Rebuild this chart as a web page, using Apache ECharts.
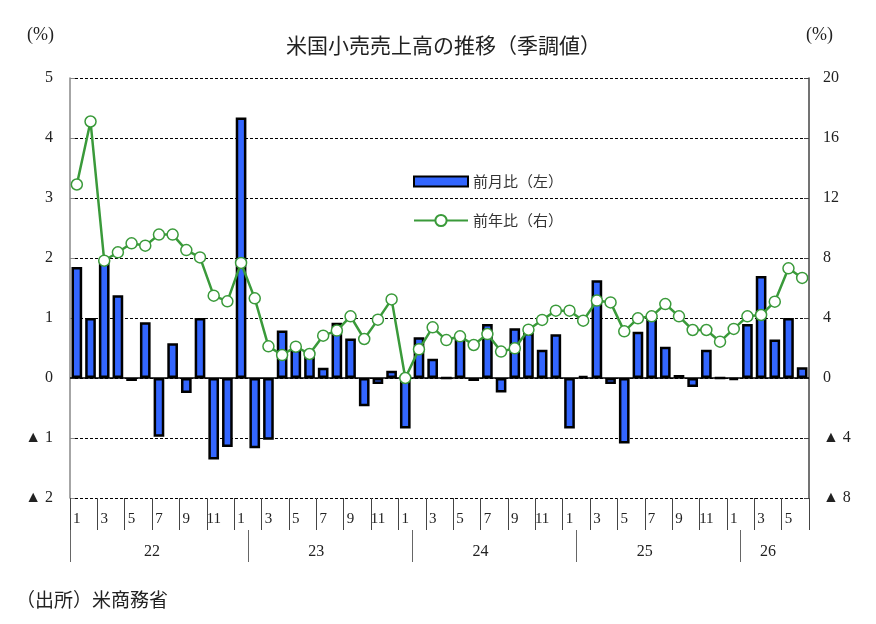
<!DOCTYPE html>
<html>
<head>
<meta charset="utf-8">
<script src="https://cdn.jsdelivr.net/npm/echarts@6/dist/echarts.min.js"></script>
<style>
  html, body { margin: 0; padding: 0; background: #fff; }
  #chart { width: 876px; height: 624px; }
</style>
</head>
<body>
<div id="chart"></div>
<script>
// month number of each bar, Jan 2022 .. Jun 2026
const monthLabels = [
  1, 2, 3, 4, 5, 6, 7, 8, 9, 10, 11, 12,
  1, 2, 3, 4, 5, 6, 7, 8, 9, 10, 11, 12,
  1, 2, 3, 4, 5, 6, 7, 8, 9, 10, 11, 12,
  1, 2, 3, 4, 5, 6, 7, 8, 9, 10, 11, 12,
  1, 2, 3, 4, 5, 6
]
const yearLabels = ['22', '23', '24', '25', '26']

// 前月比 (left axis, %)
const momValues = [
  1.85, 1.0, 2.0, 1.38, -0.05, 0.93, -0.98, 0.58, -0.25, 1.0, -1.36, -1.15,
  4.34, -1.17, -1.03, 0.79, 0.47, 0.46, 0.17, 0.92, 0.66, -0.47, -0.1, 0.12,
  -0.84, 0.68, 0.32, 0.0, 0.73, -0.05, 0.9, -0.24, 0.83, 0.75, 0.47, 0.73,
  -0.84, 0.03, 1.63, -0.1, -1.09, 0.77, 1.03, 0.52, 0.05, -0.15, 0.47, 0.0,
  -0.03, 0.9, 1.7, 0.64, 1.0, 0.18
]
// 前年比 (right axis, %)
const yoyValues = [
  12.9, 17.1, 7.82, 8.38, 8.98, 8.82, 9.56, 9.56, 8.53, 8.04, 5.49, 5.11,
  7.67, 5.31, 2.11, 1.53, 2.09, 1.6, 2.82, 3.16, 4.11, 2.6, 3.89, 5.24,
  0.0, 1.91, 3.38, 2.53, 2.78, 2.2, 2.93, 1.76, 1.98, 3.22, 3.87, 4.49,
  4.49, 3.82, 5.16, 5.04, 3.11, 3.98, 4.11, 4.93, 4.11, 3.2, 3.2, 2.42,
  3.27, 4.11, 4.2, 5.09, 7.31, 6.67
]

const categories = monthLabels.map((m, i) => i + ':' + m)
// band edges 0..n, used for the year separator row
const edges = monthLabels.map((m, i) => 'e' + i).concat(['e' + monthLabels.length])

// year row: separators sit at the Jan/Feb boundary (as in the source), labels centred on each year's months
const yearStarts = []
monthLabels.forEach((m, i) => { if (m === 1) yearStarts.push(i) })
const yearSeps = [0].concat(yearStarts.slice(1).map(i => i + 1))
const yearCenters = yearStarts.map((s, k) => {
  const end = k + 1 < yearStarts.length ? yearStarts[k + 1] : monthLabels.length
  return (s + end) / 2
})

const numFont = '"Liberation Serif", "DejaVu Serif", serif'
const jpFont = '"Noto Sans CJK JP", sans-serif'
const tri = v => (v < 0 ? '▲ ' + Math.abs(v) : String(v))
const green = '#3a9a3a'

const chart = echarts.init(document.getElementById('chart'))

const option = {
  animation: false,
  backgroundColor: '#fff',
  title: [
    {
      text: '米国小売売上高の推移（季調値）',
      left: 286,
      top: 35,
      padding: 0,
      textStyle: { fontFamily: jpFont, fontSize: 21, fontWeight: 'normal', color: '#222' },
    },
    {
      text: '(%)',
      left: 27,
      top: 26,
      padding: 0,
      textStyle: { fontFamily: numFont, fontSize: 18, fontWeight: 'normal', color: '#222' },
    },
    {
      text: '(%)',
      left: 806,
      top: 26,
      padding: 0,
      textStyle: { fontFamily: numFont, fontSize: 18, fontWeight: 'normal', color: '#222' },
    },
    {
      text: '（出所）米商務省',
      left: 16,
      top: 590,
      padding: 0,
      textStyle: { fontFamily: jpFont, fontSize: 19, fontWeight: 'normal', color: '#222' },
    },
  ],
  legend: [
    {
      left: 413,
      top: 174,
      padding: 0,
      itemWidth: 54,
      itemHeight: 10,
      data: [{ name: '前月比（左）', icon: 'rect' }],
      textStyle: { fontFamily: jpFont, fontSize: 15, color: '#333' },
    },
    {
      left: 413,
      top: 213,
      padding: 0,
      itemWidth: 54,
      itemHeight: 14,
      data: ['前年比（右）'],
      textStyle: { fontFamily: jpFont, fontSize: 15, color: '#333' },
    },
  ],
  grid: { left: 70, right: 67, top: 78, bottom: 126, containLabel: false },
  xAxis: [
    {
      type: 'category',
      data: categories,
      position: 'bottom',
      boundaryGap: true,
      axisLine: { show: false, onZero: false },
      axisTick: {
        show: true,
        interval: 1,
        length: 32,
        lineStyle: { color: '#444', width: 1 },
      },
      axisLabel: {
        interval: 1,
        margin: 14,
        formatter: v => v.split(':')[1],
        fontFamily: numFont,
        fontSize: 15,
        color: '#222',
      },
    },
    {
      // year separators
      type: 'category',
      data: edges,
      position: 'bottom',
      offset: 32,
      boundaryGap: false,
      axisLine: { show: false, onZero: false },
      axisTick: {
        show: true,
        interval: idx => yearSeps.indexOf(idx) >= 0,
        length: 32,
        lineStyle: { color: '#666', width: 1 },
      },
      axisLabel: { show: false },
    },
    {
      // year labels
      type: 'value',
      min: 0,
      max: monthLabels.length,
      position: 'bottom',
      offset: 32,
      axisLine: { show: false, onZero: false },
      splitLine: { show: false },
      axisTick: { show: false },
      axisLabel: {
        customValues: yearCenters,
        margin: 14,
        formatter: v => yearLabels[yearCenters.indexOf(v)],
        fontFamily: numFont,
        fontSize: 16,
        color: '#222',
      },
    },
  ],
  yAxis: [
    {
      type: 'value',
      min: -2,
      max: 5,
      interval: 1,
      axisLine: { show: true, lineStyle: { color: '#888', width: 1.5 } },
      axisTick: { show: true, inside: true, length: 5, lineStyle: { color: '#888' } },
      axisLabel: {
        margin: 17,
        formatter: tri,
        fontFamily: numFont,
        fontSize: 16,
        color: '#222',
      },
      splitLine: { show: true, lineStyle: { color: '#000', type: [3, 2], width: 1 } },
    },
    {
      type: 'value',
      min: -8,
      max: 20,
      interval: 4,
      position: 'right',
      axisLine: { show: true, lineStyle: { color: '#444', width: 1.5 } },
      axisTick: { show: true, inside: true, length: 5, lineStyle: { color: '#444' } },
      axisLabel: {
        margin: 14,
        formatter: tri,
        fontFamily: numFont,
        fontSize: 16,
        color: '#222',
      },
      splitLine: { show: false },
    },
  ],
  series: [
    {
      name: '前月比（左）',
      type: 'bar',
      xAxisIndex: 0,
      yAxisIndex: 0,
      data: momValues,
      barWidth: '78%',
      itemStyle: { color: '#3366ff', borderColor: '#000', borderWidth: 2.5 },
      markLine: {
        silent: true,
        symbol: 'none',
        label: { show: false },
        lineStyle: { color: '#000', type: 'solid', width: 1.5 },
        data: [{ yAxis: 0 }],
      },
    },
    {
      name: '前年比（右）',
      type: 'line',
      xAxisIndex: 0,
      yAxisIndex: 1,
      data: yoyValues,
      symbol: 'circle',
      symbolSize: 11,
      showAllSymbol: true,
      lineStyle: { color: green, width: 2.5 },
      itemStyle: { color: '#fff', borderColor: green, borderWidth: 1.5 },
      z: 5,
    },
  ],
}

chart.setOption(option)
</script>
</body>
</html>
